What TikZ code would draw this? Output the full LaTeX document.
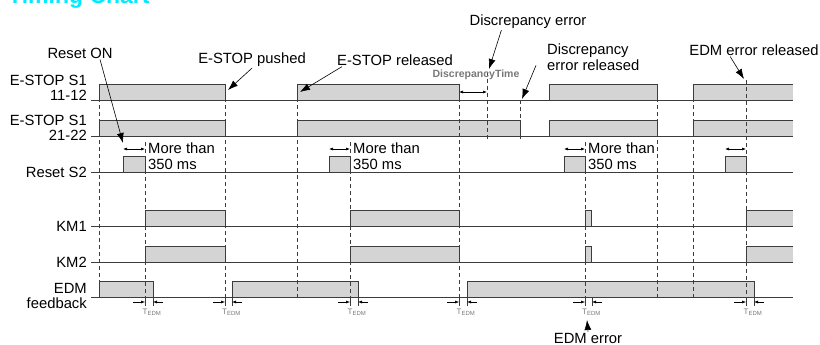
\documentclass[tikz,border=0pt]{standalone}
\usepackage{fontspec}
\setmainfont{Liberation Sans}
\usepackage{tikz}
\usetikzlibrary{arrows.meta}
\definecolor{CyanTitle}{RGB}{0,235,255}
\definecolor{GrayWire}{RGB}{60,60,60}
\definecolor{GrayHigh}{RGB}{212,212,212}
\definecolor{GrayNote}{RGB}{120,120,120}
% high level of a signal: baseline y, rising x, falling x
\newcommand{\highPulse}[3]{%
  \fill[GrayHigh] (#2,#1) rectangle (#3,{#1-16});
  \draw[wire] (#2,#1) -- (#2,{#1-16}) -- (#3,{#1-16}) -- (#3,#1);}
% high level that runs to the right end
\newcommand{\highOpen}[2]{%
  \fill[GrayHigh] (#2,#1) rectangle (793,{#1-16});
  \draw[wire] (#2,#1) -- (#2,{#1-16}) -- (793,{#1-16});}
% T_EDM mark: node name, guide x, edge x
\newcommand{\tedmMark}[3]{%
  \draw[dimtick] (#2,297) -- (#2,306);
  \draw[dimtick] (#3,297) -- (#3,306);
  \draw[dimtip] ({#2-12},302) -- (#2,302);
  \draw[dimtip] ({#3+10},302) -- (#3,302);
  \node[tnote] (#1) at ({(#2+#3)/2+3},312) {T\textsubscript{EDM}};}

\begin{document}
\begin{tikzpicture}[x=1pt,y=-1pt,>=Latex,
  wire/.style={draw=GrayWire,line width=0.9pt},
  guide/.style={draw=GrayWire,line width=0.6pt,dash pattern=on 4pt off 3pt},
  callout/.style={-{Latex[length=10pt,width=7pt]},line width=0.6pt},
  span/.style={{Latex[length=4pt,width=3pt]}-{Latex[length=4pt,width=3pt]},line width=0.6pt},
  dimtip/.style={-{Latex[length=4pt,width=3pt]},line width=0.5pt},
  dimtick/.style={draw=GrayWire,line width=0.5pt},
  note/.style={font=\fontsize{14.8}{15.5}\selectfont,inner sep=1pt},
  sig/.style={note,align=right,anchor=east},
  tnote/.style={text=GrayNote,font=\fontsize{8}{8}\selectfont,inner sep=0pt}]
  \useasboundingbox (0,0) rectangle (820,345);
  \node[anchor=base west,text=CyanTitle,font=\fontsize{23}{23}\selectfont\bfseries,inner sep=0pt]
    (title) at (8,4) {Timing Chart};

  % signal names
  \node[sig] (lS11) at (88,88)  {E-STOP S1\\11-12};
  \node[sig] (lS21) at (88,128) {E-STOP S1\\21-22};
  \node[sig] (lRst) at (88,172) {Reset S2};
  \node[sig] (lKM1) at (88,226) {KM1};
  \node[sig] (lKM2) at (88,262) {KM2};
  \node[sig] (lEDM) at (88,296) {EDM\\feedback};

  % waveforms
  \highPulse{100}{99}{225} \highPulse{100}{297}{459} \highPulse{100}{549}{657} \highOpen{100}{693}
  \highPulse{136}{99}{225} \highPulse{136}{297}{520} \highPulse{136}{549}{657} \highOpen{136}{693}
  \highPulse{172}{123}{145} \highPulse{172}{329}{350} \highPulse{172}{564}{585} \highPulse{172}{725}{746}
  \highPulse{226}{145}{225} \highPulse{226}{350}{459} \highPulse{226}{585}{591} \highOpen{226}{746}
  \highPulse{262}{145}{225} \highPulse{262}{350}{459} \highPulse{262}{585}{591} \highOpen{262}{746}
  \highPulse{297}{99}{153} \highPulse{297}{232}{358} \highPulse{297}{467}{754}

  % time guides
  \draw[guide] (99,84) -- (99,297);
  \draw[guide] (145,142) -- (145,297);
  \draw[guide] (225,84) -- (225,297);
  \draw[guide] (297,84) -- (297,297);
  \draw[guide] (350,142) -- (350,297);
  \draw[guide] (459,84) -- (459,297);
  \draw[guide] (487,72) -- (487,140);
  \draw[guide] (520,100) -- (520,140);
  \draw[guide] (585,142) -- (585,297);
  \draw[guide] (657,84) -- (657,297);
  \draw[guide] (693,84) -- (693,297);
  \draw[guide] (746,80) -- (746,297);

  % baselines
  \draw[wire] (91,100) -- (793,100);
  \draw[wire] (91,136) -- (793,136);
  \draw[wire] (91,172) -- (793,172);
  \draw[wire] (91,226) -- (793,226);
  \draw[wire] (91,262) -- (793,262);
  \draw[wire] (91,297) -- (793,297);

  % reset widths
  \draw[span] (123,149) -- (145,149);
  \draw[span] (329,149) -- (350,149);
  \draw[span] (564,149) -- (585,149);
  \draw[span] (725,149) -- (746,149);
  \node[note,align=left,anchor=west] (mt1) at (147,156) {More than\\350 ms};
  \node[note,align=left,anchor=west] (mt2) at (352,156) {More than\\350 ms};
  \node[note,align=left,anchor=west] (mt3) at (587,156) {More than\\350 ms};

  % discrepancy time
  \draw[span] (459,92) -- (487,92);
  \node[tnote,font=\fontsize{10.5}{10.5}\selectfont\bfseries] (discT) at (476,75) {DiscrepancyTime};

  % EDM delays
  \tedmMark{te1}{145}{153}
  \tedmMark{te2}{225}{232}
  \tedmMark{te3}{350}{358}
  \tedmMark{te4}{459}{467}
  \tedmMark{te5}{585}{592}
  \tedmMark{te6}{746}{754}

  % callouts
  \coordinate (tRst) at (123,143);
  \coordinate (tPush) at (228,90);
  \coordinate (tRel) at (300,92);
  \coordinate (tDisc) at (489,69);
  \coordinate (tDiscRel) at (522,99);
  \coordinate (tEdmRel) at (744,79);
  \coordinate (tEdmErr) at (587,320);
  \node[note] (rstOn) at (80,53) {Reset ON};
  \node[note] (pushed) at (252,60) {E-STOP pushed};
  \node[note] (released) at (395,60) {E-STOP released};
  \node[note] (discErr) at (528,22) {Discrepancy error};
  \node[note,align=left,anchor=west] (discRel) at (546,57) {Discrepancy\\error released};
  \node[note] (edmRel) at (754,50) {EDM error released};
  \node[note] (edmErr) at (588,338) {EDM error};
  \draw[callout] ([xshift=20pt]rstOn.south) -- (tRst);
  \draw[callout] (pushed.south) -- (tPush);
  \draw[callout] ([xshift=6pt]released.south west) -- (tRel);
  \draw[callout] ([xshift=33pt]discErr.south west) -- (tDisc);
  \draw[callout] ([xshift=-10pt,yshift=6pt]discRel.south west) -- (tDiscRel);
  \draw[callout] ([xshift=42pt]edmRel.south west) -- (tEdmRel);
  \draw[callout] (edmErr.north) -- (tEdmErr);
\end{tikzpicture}
\end{document}
